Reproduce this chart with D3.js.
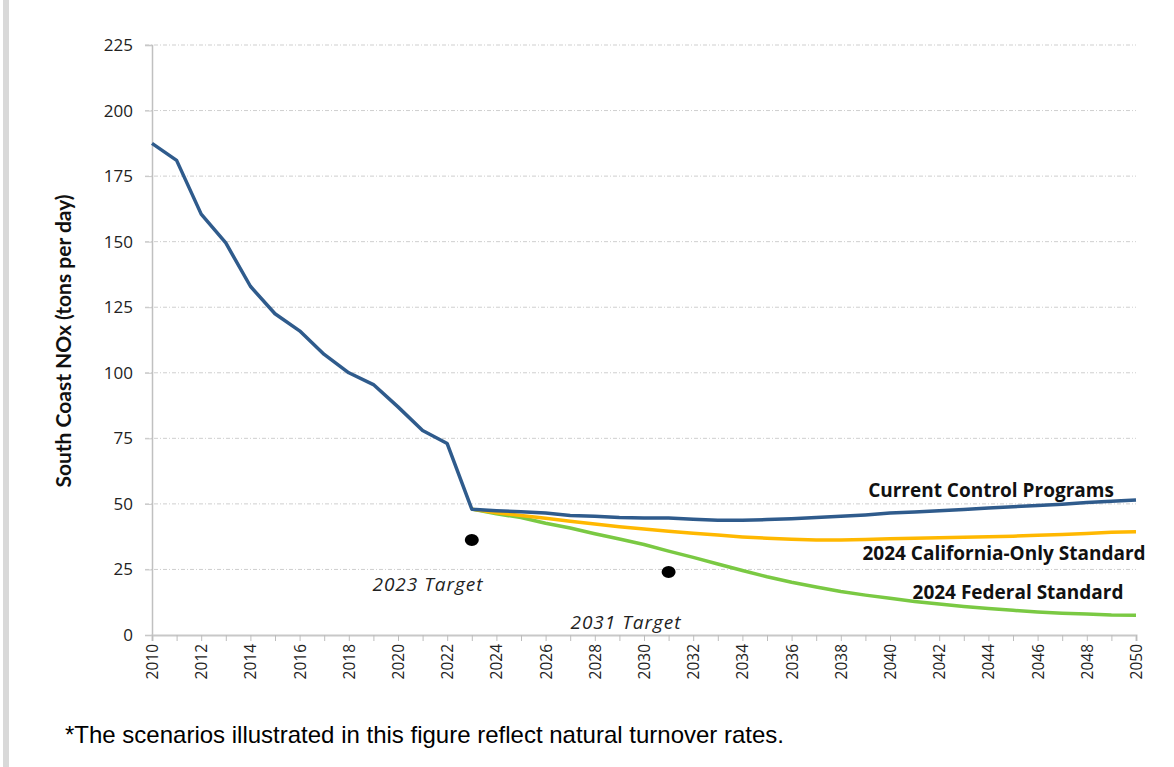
<!DOCTYPE html>
<html>
<head>
<meta charset="utf-8">
<script src="https://cdn.jsdelivr.net/npm/d3@7"></script>
<style>
	body { margin: 0; background: #fff; }
	.axisText { font-family: "Open Sans", Lato, sans-serif; fill: #222; }
	.seriesLabel { font-family: "Open Sans", Lato, sans-serif; font-size: 19px; font-weight: bold; fill: #111; }
	.targetLabel { font-family: "Open Sans", Lato, sans-serif; font-size: 19px; font-style: italic; letter-spacing: 1px; fill: #222; }
</style>
</head>
<body>
<script>
//chart data
var years = d3.range(2010, 2051);
var currentControl = [187.5, 181, 160.5, 149.5, 133, 122.5, 116, 107, 100, 95.5, 87, 78, 73, 48,
	47.4, 47, 46.5, 45.6, 45.3, 44.8, 44.6, 44.6, 44.1, 43.8, 43.8, 44, 44.3, 44.8, 45.3, 45.8,
	46.5, 46.9, 47.4, 47.9, 48.4, 48.9, 49.4, 49.9, 50.5, 51, 51.5];
var californiaOnly = [null, null, null, null, null, null, null, null, null, null, null, null, null, 48,
	46.6, 45.6, 44.5, 43.4, 42.3, 41.3, 40.4, 39.6, 38.8, 38.1, 37.4, 36.9, 36.5, 36.2, 36.2, 36.4,
	36.7, 36.9, 37.1, 37.3, 37.5, 37.7, 38, 38.3, 38.7, 39.2, 39.4];
var federal = [null, null, null, null, null, null, null, null, null, null, null, null, null, 48,
	46.2, 44.8, 42.6, 40.8, 38.6, 36.6, 34.5, 32, 29.6, 27.1, 24.6, 22.2, 20.1, 18.3, 16.6, 15.2,
	14, 12.8, 11.8, 10.9, 10.1, 9.4, 8.8, 8.3, 8, 7.6, 7.5];
var targetYears = [2023, 2031];
var targetValues = [36.2, 24];
var targetNames = ["2023 Target", "2031 Target"];
var yTicks = [0, 25, 50, 75, 100, 125, 150, 175, 200, 225];
var seriesNames = ["Current Control Programs", "2024 California-Only Standard", "2024 Federal Standard"];
var seriesColors = ["#2f5b8c", "#ffb800", "#7ac943"];

window.onload = setChart();

function setChart(){
	var width = 1174,
		height = 767;

	var svg = d3.select("body")
		.append("svg")
		.attr("width", width)
		.attr("height", height);

	//gray frame on the left edge
	svg.append("rect")
		.attr("x", 3).attr("y", 0)
		.attr("width", 6).attr("height", height)
		.attr("fill", "#d9d9d9");

	var x = d3.scaleLinear().domain([2010, 2050]).range([152, 1136]);
	var y = d3.scaleLinear().domain([0, 225]).range([635, 45]);

	//gridlines
	svg.selectAll(".grid")
		.data(yTicks.filter(function(d){ return d > 0; }))
		.enter()
		.append("line")
		.attr("x1", 145).attr("x2", 1136)
		.attr("y1", function(d){ return y(d); })
		.attr("y2", function(d){ return y(d); })
		.attr("stroke", "#cfcfcf")
		.attr("stroke-width", 1)
		.attr("stroke-dasharray", "4,2,1,2");

	//y axis
	var yAxis = svg.append("g")
		.attr("transform", "translate(152,0)")
		.call(d3.axisLeft(y).tickValues(yTicks).tickSize(7).tickPadding(12));
	yAxis.select(".domain").attr("stroke", "#c0c0c0").attr("stroke-width", 1.5);
	yAxis.selectAll(".tick line").attr("stroke", "#c8c8c8");
	yAxis.selectAll("text").attr("class", "axisText").style("font-size", "17px");

	//x axis with a tick every year and labels every other year
	var xAxis = svg.append("g")
		.attr("transform", "translate(0," + y(0) + ")")
		.call(d3.axisBottom(x).tickValues(years).tickSize(6)
			.tickFormat(function(d){ return d % 2 === 0 ? d : ""; }));
	xAxis.select(".domain").attr("stroke", "#c8c8c8").attr("stroke-width", 2);
	xAxis.selectAll(".tick line").attr("stroke", "#bdbdbd");
	xAxis.selectAll("text")
		.attr("class", "axisText")
		.style("font-size", "15.5px")
		.attr("transform", "rotate(-90)")
		.attr("text-anchor", "end")
		.attr("x", -9).attr("y", 0)
		.attr("dy", "0.35em");

	//y axis title
	svg.append("text")
		.attr("transform", "translate(71,341) rotate(-90)")
		.attr("text-anchor", "middle")
		.attr("font-family", "Lato, 'Open Sans', sans-serif")
		.attr("font-size", "21px")
		.attr("font-weight", "bold")
		.attr("fill", "#111")
		.text("South Coast NOx (tons per day)");

	var line = d3.line()
		.defined(function(d){ return d[1] !== null; })
		.x(function(d){ return x(d[0]); })
		.y(function(d){ return y(d[1]); });

	var series = [federal, californiaOnly, currentControl];
	var colors = [seriesColors[2], seriesColors[1], seriesColors[0]];
	series.forEach(function(vals, i){
		svg.append("path")
			.datum(years.map(function(yr, j){ return [yr, vals[j]]; }))
			.attr("fill", "none")
			.attr("stroke", colors[i])
			.attr("stroke-width", 3.5)
			.attr("stroke-linejoin", "round")
			.attr("d", line);
	});

	//targets
	svg.selectAll(".target")
		.data(targetYears)
		.enter()
		.append("ellipse")
		.attr("cx", function(d){ return x(d); })
		.attr("cy", function(d, i){ return y(targetValues[i]); })
		.attr("rx", 7).attr("ry", 6)
		.attr("fill", "#000");

	var targetPos = [[428, 591], [626, 629]];
	svg.selectAll(".targetLabel")
		.data(targetNames)
		.enter()
		.append("text")
		.attr("class", "targetLabel")
		.attr("text-anchor", "middle")
		.attr("x", function(d, i){ return targetPos[i][0]; })
		.attr("y", function(d, i){ return targetPos[i][1]; })
		.text(function(d){ return d; });

	//series labels
	var labelPos = [[991, 497], [1004, 560], [1018, 599]];
	svg.selectAll(".seriesLabel")
		.data(seriesNames)
		.enter()
		.append("text")
		.attr("class", "seriesLabel")
		.attr("text-anchor", "middle")
		.attr("x", function(d, i){ return labelPos[i][0]; })
		.attr("y", function(d, i){ return labelPos[i][1]; })
		.text(function(d){ return d; });

	//footnote
	svg.append("text")
		.attr("x", 65).attr("y", 743)
		.attr("font-family", "'Liberation Sans', Arial, sans-serif")
		.attr("font-size", "24px")
		.attr("fill", "#000")
		.text("*The scenarios illustrated in this figure reflect natural turnover rates.");
};
</script>
</body>
</html>
